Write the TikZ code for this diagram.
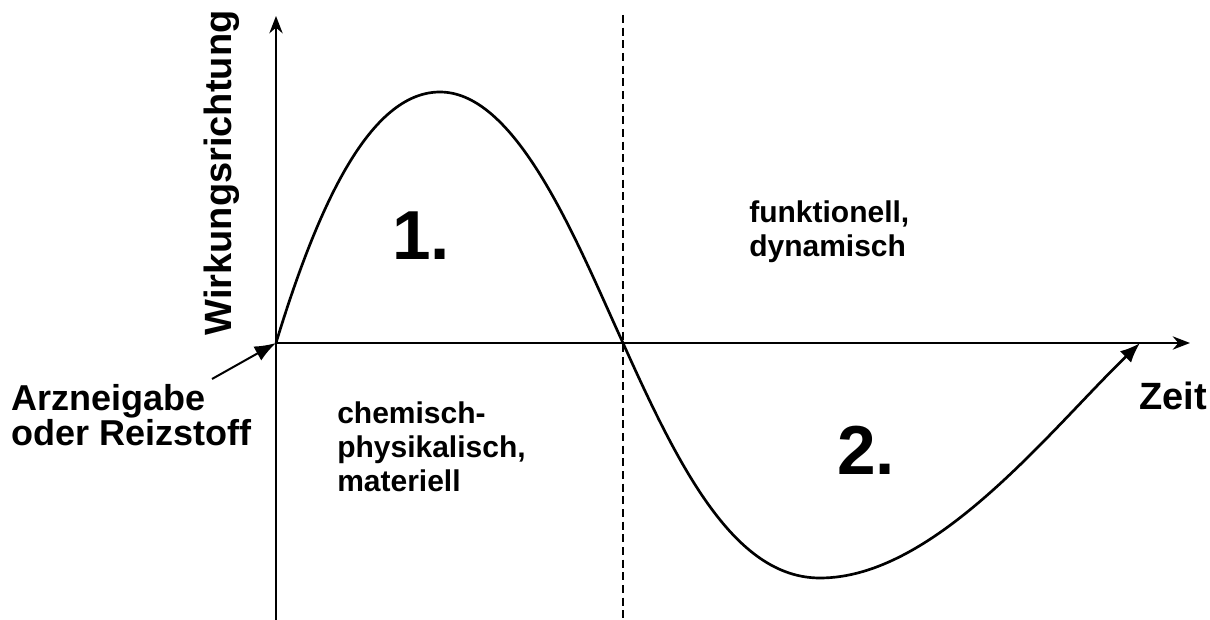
\documentclass[tikz,border=0pt]{standalone}
\usepackage{fontspec}
\setmainfont{Liberation Sans}
\usetikzlibrary{arrows.meta,positioning}

\begin{document}
\begin{tikzpicture}[x=0.75pt,y=-0.75pt,
    lbl/.style={font=\bfseries\fontsize{22.5}{25.5}\selectfont,align=left,inner sep=0pt},
    axlbl/.style={font=\bfseries\fontsize{28.5}{27}\selectfont,align=left,inner sep=0pt},
    big/.style={font=\bfseries\fontsize{52}{56}\selectfont,inner sep=0pt},
    axis/.style={line width=1.5pt,-{Stealth[length=13pt,width=10pt]}}]
    \useasboundingbox (0,0) rectangle (1210,620);
    \coordinate (O) at (276,343);
    \coordinate (ytop) at (276,16);
    \coordinate (ybot) at (276,620);
    \coordinate (xend) at (1190,343);
    \coordinate (mid) at (623,343);
    \draw[axis] (ybot)--(ytop);
    \draw[axis] (O)--(xend);
    \draw[line width=1.5pt,dash pattern=on 6pt off 3.5pt] (623,15)--(623,620);
    % Wirkungsverlauf
    \draw[line width=2pt,-{Latex[length=15pt,width=12pt]}] (O)
      .. controls (318,205) and (370,92) .. (440,92)
      .. controls (518,92) and (578,245) .. (mid)
      .. controls (680,470) and (735,578) .. (820,578)
      .. controls (935,578) and (1050,430) .. (1140,343);
    \node[axlbl,rotate=90] (wr) at (222,173) {Wirkungsrichtung};
    \node[axlbl,anchor=east] (zeit) at (1207,396) {Zeit};
    \node[axlbl,font=\bfseries\fontsize{27}{26.5}\selectfont,anchor=west] (arz) at (11,415) {Arzneigabe\\oder Reizstoff};
    \coordinate (ptr) at (212,379);
    \draw[line width=1.5pt,-{Latex[length=16pt,width=12pt]}] (ptr)--(O);
    \node[lbl,anchor=west] (chem) at (337,447) {chemisch-\\physikalisch,\\materiell};
    \node[lbl,anchor=west] (funk) at (749,232) {funktionell,\\dynamisch};
    \node[big] (eins) at (421,236) {1.};
    \node[big] (zwei) at (866,450) {2.};
\end{tikzpicture}
\end{document}
